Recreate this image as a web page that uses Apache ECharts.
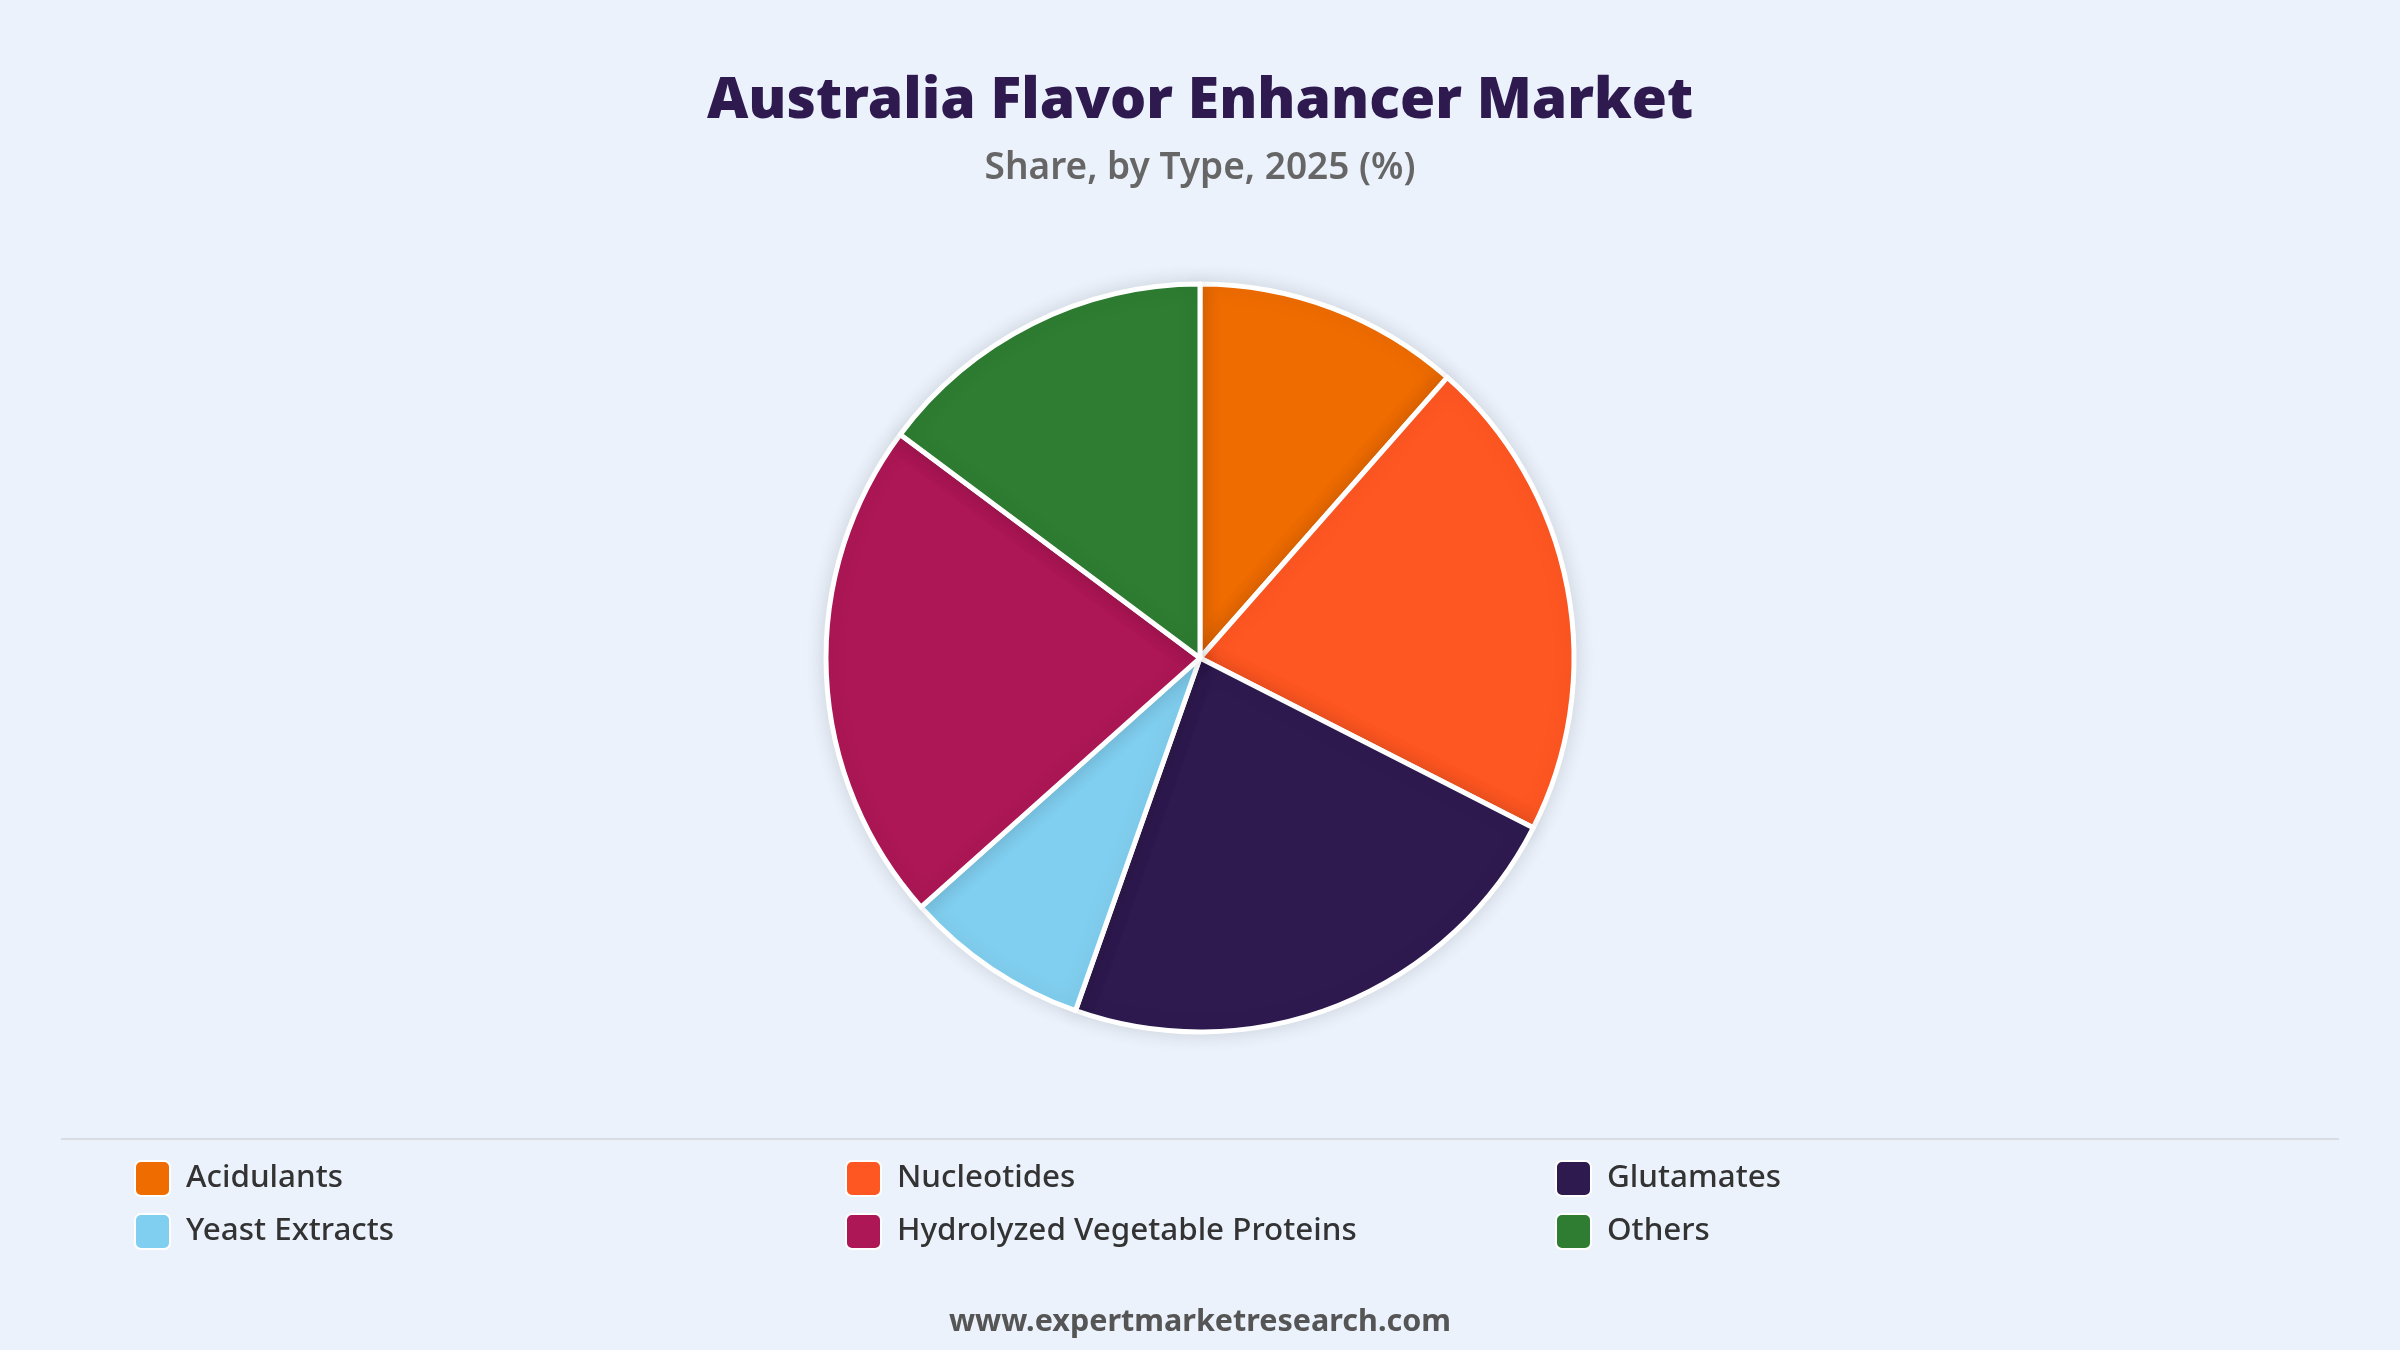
<!DOCTYPE html>
<html>
<head>
<meta charset="utf-8">
<script src="https://cdn.jsdelivr.net/npm/echarts@6/dist/echarts.min.js"></script>
<style>
html,body{margin:0;padding:0;background:#EBF2FB;}
#chart{width:2400px;height:1350px;}
</style>
</head>
<body>
<div id="chart"></div>
<script>
const categories = ['Acidulants', 'Nucleotides', 'Glutamates', 'Yeast Extracts', 'Hydrolyzed Vegetable Proteins', 'Others'];
const shares = [11.5, 21.0, 22.9, 8.0, 21.8, 14.8];
const colors = ['#EF6C00', '#FF5722', '#2E1A4F', '#81CFF0', '#AD1755', '#2E7D32'];

const chart = echarts.init(document.getElementById('chart'));

const legendCols = [134, 845, 1555];
const legendRows = [1160, 1213];
const legends = categories.map((name, i) => ({
  left: legendCols[i % 3],
  top: legendRows[Math.floor(i / 3)],
  padding: 0,
  itemWidth: 35,
  itemHeight: 35,
  icon: 'path://M6,0 H29 A6,6 0 0 1 35,6 V29 A6,6 0 0 1 29,35 H6 A6,6 0 0 1 0,29 V6 A6,6 0 0 1 6,0 Z',
  selectedMode: false,
  data: [name],
  textStyle: { fontFamily: 'Noto Sans', fontWeight: 500, fontSize: 31.4, color: '#333333', padding: [0, 0, 0, 11] }
}));

chart.setOption({
  backgroundColor: '#EBF2FB',
  color: colors,
  title: [
    {
      text: 'Australia Flavor Enhancer Market',
      left: 'center', top: 68,
      textStyle: { fontFamily: 'Noto Sans', fontWeight: 900, fontSize: 57, color: '#2E1A4F' }
    },
    {
      text: 'Share, by Type, 2025 (%)',
      left: 'center', top: 145,
      textStyle: { fontFamily: 'Noto Sans', fontWeight: 600, fontSize: 37, color: '#666666' }
    },
    {
      text: 'www.expertmarketresearch.com',
      left: 'center', top: 1302,
      textStyle: { fontFamily: 'Noto Sans', fontWeight: 'bold', fontSize: 30.5, color: '#555555' }
    }
  ],
  legend: legends,
  graphic: [
    { type: 'rect', shape: { x: 61, y: 1138, width: 2278, height: 2 }, style: { fill: '#D9DDE3' }, silent: true }
  ],
  series: [{
    type: 'pie',
    center: [1200, 658],
    radius: [0, 374],
    startAngle: 90,
    clockwise: true,
    label: { show: false },
    labelLine: { show: false },
    emphasis: { disabled: true },
    itemStyle: {
      borderColor: '#FFFFFF', borderWidth: 5,
      shadowBlur: 20, shadowColor: 'rgba(0,0,0,0.12)'
    },
    data: categories.map((name, i) => ({ name, value: shares[i] }))
  }]
});
</script>
</body>
</html>
